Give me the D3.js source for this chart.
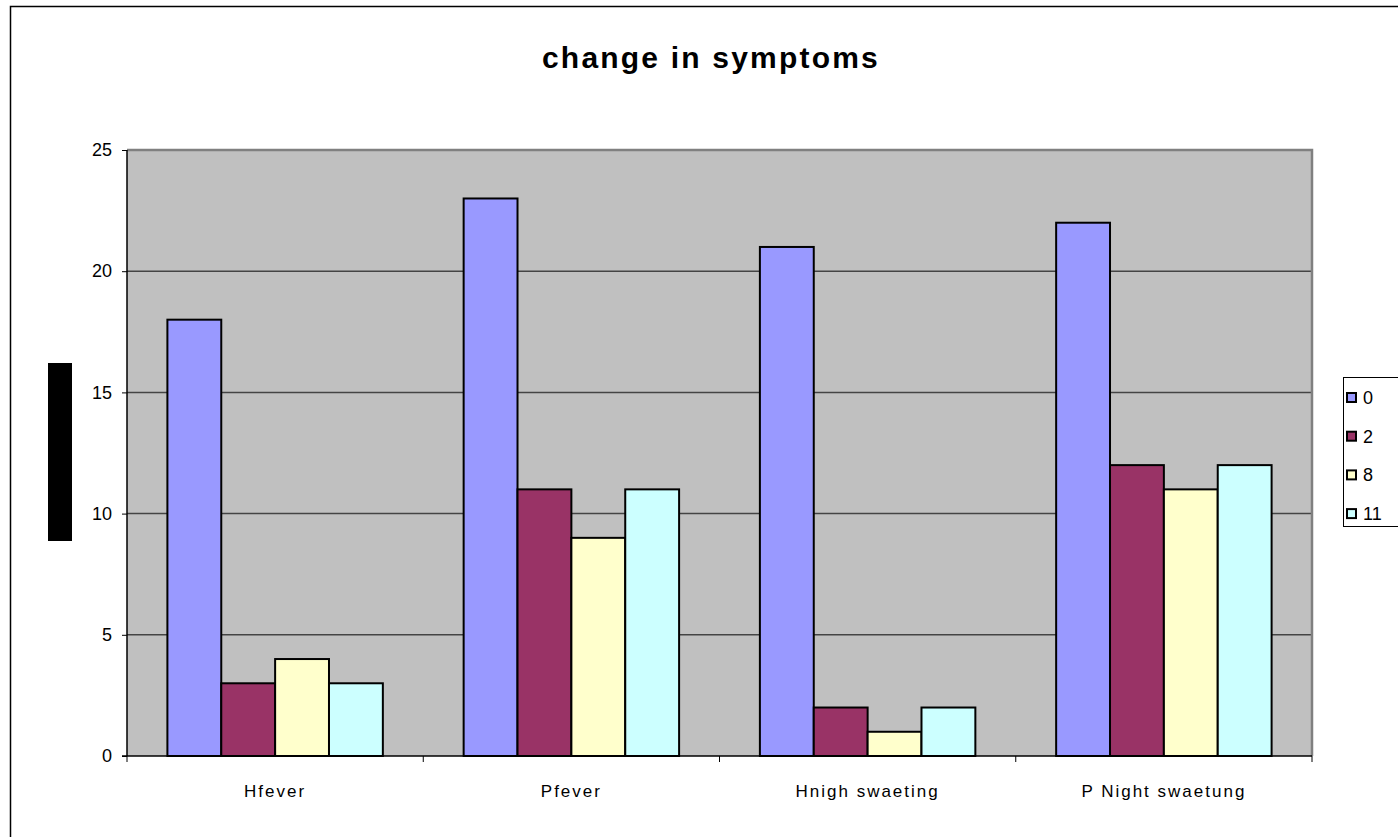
<!DOCTYPE html>
<html>
<head>
<meta charset="utf-8">
<script src="https://cdnjs.cloudflare.com/ajax/libs/d3/7.8.5/d3.min.js"></script>
<style>
  body { margin: 0; background: #fff; }
  text { font-family: "Liberation Sans", Arial, sans-serif; }
  .axis path, .axis line { stroke: #000; }
  .axis text { font-size: 18px; fill: #000; }
</style>
</head>
<body>
<svg width="1398" height="837"></svg>
<script>
var categories = ["Hfever", "Pfever", "Hnigh swaeting", "P Night swaetung"];
var seriesNames = ["0", "2", "8", "11"];
var seriesColors = ["#9999ff", "#993366", "#ffffcc", "#ccffff"];
var values = [
  [18, 3, 4, 3],
  [23, 11, 9, 11],
  [21, 2, 1, 2],
  [22, 12, 11, 12]
];
var yTicks = [0, 5, 10, 15, 20, 25];

var svg = d3.select("svg"),
    margin = {top: 150, right: 86, bottom: 81, left: 127},
    width = 1398 - margin.left - margin.right,
    height = 837 - margin.top - margin.bottom;

// outer chart frame
svg.append("rect")
    .attr("x", 10.5).attr("y", 6.5)
    .attr("width", 1400).attr("height", 840)
    .attr("fill", "#fff")
    .attr("stroke", "#000").attr("stroke-width", 1.5);

svg.append("text")
    .attr("x", 711).attr("y", 68)
    .attr("text-anchor", "middle")
    .style("font-size", "30px").style("font-weight", "bold")
    .style("letter-spacing", "2.2px")
    .text("change in symptoms");

// black box where the y title should be
svg.append("rect")
    .attr("x", 48).attr("y", 363)
    .attr("width", 24).attr("height", 178)
    .attr("fill", "#000");

var x0 = d3.scaleBand().domain(categories).range([0, width]),
    y = d3.scaleLinear().domain([0, 25]).range([height, 0]);

var barW = x0.bandwidth() / 5.5;
var x1 = d3.scaleBand().domain(seriesNames)
    .range([barW * 0.75, barW * 4.75]);

var g = svg.append("g")
    .attr("transform", "translate(" + margin.left + "," + margin.top + ")");

g.append("rect")
    .attr("width", width).attr("height", height)
    .attr("fill", "#c0c0c0");

g.selectAll(".grid").data(yTicks.slice(1, -1)).enter().append("line")
    .attr("class", "grid")
    .attr("x1", 0).attr("x2", width)
    .attr("y1", function(d){return y(d);})
    .attr("y2", function(d){return y(d);})
    .attr("stroke", "#444").attr("stroke-width", 1.5);

// gray border top and right
g.append("path")
    .attr("d", "M0,0H" + width + "V" + height)
    .attr("fill", "none")
    .attr("stroke", "#808080").attr("stroke-width", 2.5);

var groups = g.selectAll(".grp").data(values).enter().append("g")
    .attr("transform", function(d, i){return "translate(" + x0(categories[i]) + ",0)";});

groups.selectAll("rect").data(function(d){return d;}).enter().append("rect")
    .attr("x", function(d, j){return x1(seriesNames[j]);})
    .attr("y", function(d){return y(d);})
    .attr("width", x1.bandwidth())
    .attr("height", function(d){return height - y(d);})
    .attr("fill", function(d, j){return seriesColors[j];})
    .attr("stroke", "#000").attr("stroke-width", 2);

g.append("g")
    .attr("class", "axis")
    .call(d3.axisLeft(y).tickValues(yTicks).tickSize(5).tickPadding(10))
    .call(function(a){a.select(".domain").attr("d", "M0," + height + "V0").attr("stroke-width", 1.5);});

var xAxis = g.append("g")
    .attr("class", "axis")
    .attr("transform", "translate(0," + height + ")");
xAxis.append("line")
    .attr("x1", -5).attr("x2", width)
    .attr("stroke", "#000").attr("stroke-width", 1.5);
xAxis.selectAll(".tk").data(d3.range(categories.length + 1)).enter().append("line")
    .attr("x1", function(i){return i * x0.step();})
    .attr("x2", function(i){return i * x0.step();})
    .attr("y1", 0).attr("y2", 6)
    .attr("stroke", "#000");
xAxis.selectAll(".lbl").data(categories).enter().append("text")
    .attr("x", function(d){return x0(d) + x0.bandwidth() / 2;})
    .attr("y", 41)
    .attr("text-anchor", "middle")
    .style("font-size", "17px")
    .style("letter-spacing", "2px")
    .text(function(d){return d;});

// legend
var lg = svg.append("g").attr("transform", "translate(1343,377)");
lg.append("rect")
    .attr("x", 0.5).attr("y", 0.5)
    .attr("width", 80).attr("height", 149)
    .attr("fill", "#fff").attr("stroke", "#000");
var items = lg.selectAll(".it").data(seriesNames).enter().append("g")
    .attr("transform", function(d, i){return "translate(4," + (21 + i * 38.7) + ")";});
items.append("rect")
    .attr("x", 0).attr("y", -5)
    .attr("width", 9).attr("height", 9)
    .attr("fill", function(d, i){return seriesColors[i];})
    .attr("stroke", "#000").attr("stroke-width", 2);
items.append("text")
    .attr("x", 16).attr("y", 6)
    .style("font-size", "18px")
    .text(function(d){return d;});
</script>
</body>
</html>
